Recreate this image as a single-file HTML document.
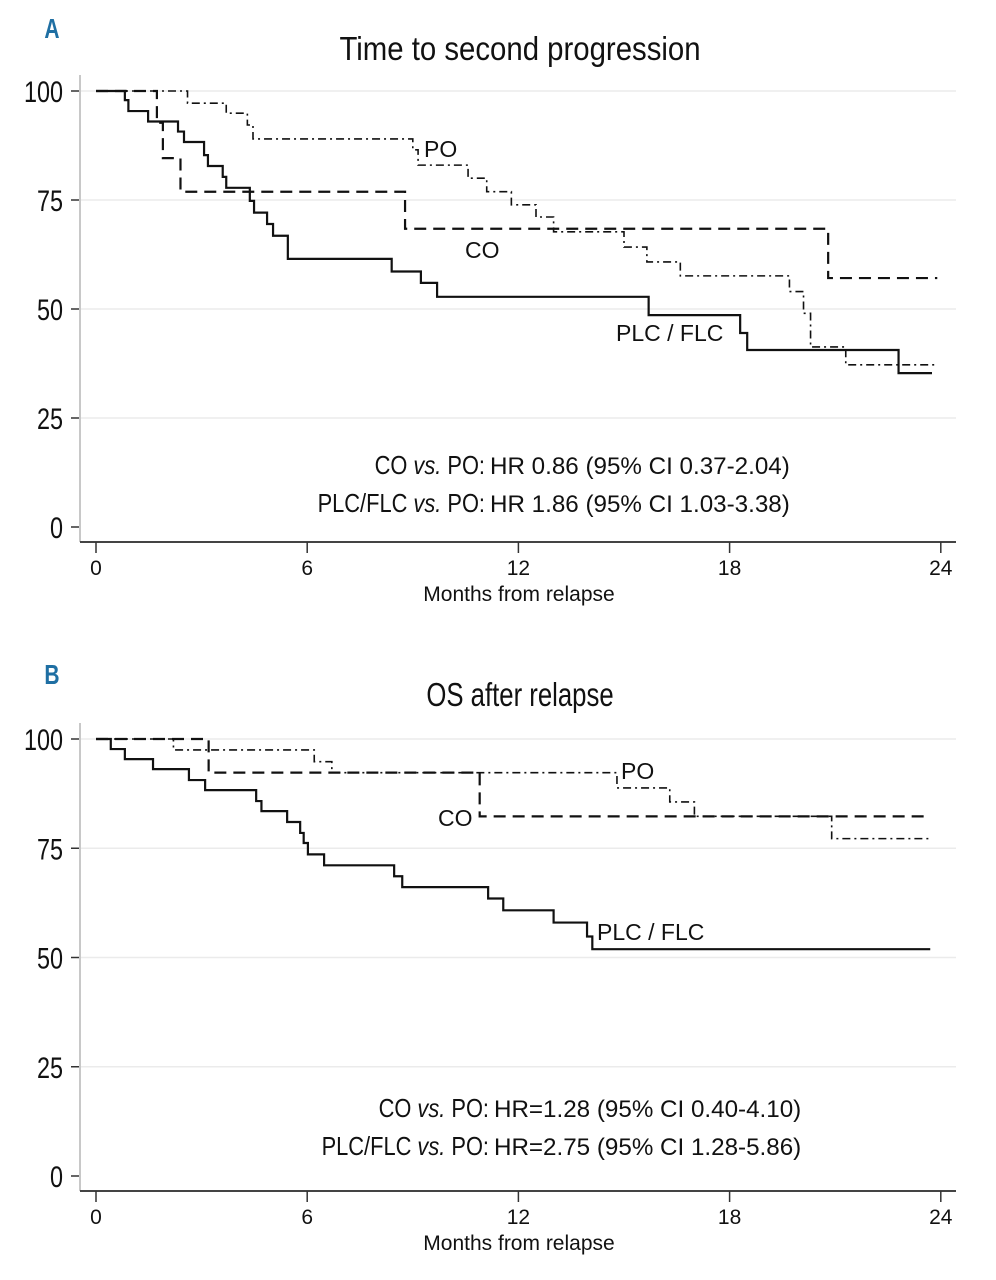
<!DOCTYPE html>
<html><head><meta charset="utf-8"><style>
html,body{margin:0;padding:0;background:#fff;}
svg{display:block;}
text{font-family:"Liberation Sans",sans-serif;fill:#111;}
</style></head><body>
<svg id="chart" width="996" height="1280" viewBox="0 0 996 1280" xmlns="http://www.w3.org/2000/svg"></svg>
<script>
// Panel A data (months, survival %)
const aPlcTimes=[0,0.82,0.92,1.48,2.33,2.5,3.07,3.18,3.6,3.7,4.37,4.49,4.86,5.03,5.45,8.4,9.23,9.69,15.7,18.3,18.5,22.8];
const aPlcVals=[100,97.9,95.4,93,90.7,88.3,85.3,82.8,80.3,77.8,74.8,72.1,69.5,66.8,61.5,58.6,56,52.8,48.6,44.5,40.6,35.3];
const aCoTimes=[0,1.73,1.9,2.4,8.78,20.8];
const aCoVals=[100,92.7,84.6,76.9,68.4,57.1];
const aPoTimes=[0,2.6,3.7,4.3,4.46,9.0,9.15,10.57,11.1,11.8,12.5,13.0,15.0,15.65,16.6,19.7,20.1,20.3,21.3];
const aPoVals=[100,97.2,94.9,92.2,89,86.5,83,80,76.9,73.9,71.1,67.7,64.2,60.8,57.6,54,49,41.3,37.2];
// Panel B data
const bPlcTimes=[0,0.42,0.82,1.62,2.64,3.1,4.55,4.7,5.43,5.8,5.9,6.02,6.48,8.47,8.7,11.14,11.57,13.0,13.95,14.1];
const bPlcVals=[100,97.7,95.4,93.1,90.6,88.3,85.8,83.5,81,78.5,76.2,73.6,71.1,68.6,66.1,63.5,60.8,58,54.8,51.9];
const bCoTimes=[0,3.2,10.9];
const bCoVals=[100,92.3,82.3];
const bPoTimes=[0,2.2,6.2,6.7,14.8,16.3,17.0,20.9];
const bPoVals=[100,97.5,94.8,92.3,88.8,85.6,82.3,77.2];
const xTicks=[0,6,12,18,24];
const yTicks=[0,25,50,75,100];

const NS="http://www.w3.org/2000/svg";
const svg=document.getElementById('chart');
function mk(tag,attrs,parent){const e=document.createElementNS(NS,tag);for(const k in attrs)e.setAttribute(k,attrs[k]);(parent||svg).appendChild(e);return e;}
const X0=96,XS=35.2;
function xs(t){return X0+t*XS;}

function panel(cfg){
  const g=mk('g',{});
  
  
  const ys=v=>cfg.y0-(cfg.y0-cfg.y100)*v/100;
  yTicks.forEach(v=>{
    if(v>0){const l=mk('line',{x1:80,x2:956,y1:ys(v),y2:ys(v),stroke:'#ebebeb','stroke-width':1.5},g);
    
    }
    const tk=mk('line',{x1:71,x2:79,y1:ys(v),y2:ys(v),stroke:'#333','stroke-width':1.5},g);
    
    
    const t=mk('text',{transform:`translate(63,${ys(v)+11}) scale(0.78,1)`,'text-anchor':'end','font-size':30},g);
    t.textContent=v;
    
    
  });
  const ya=mk('line',{x1:80,x2:80,y1:cfg.y100-16,y2:cfg.axisY,stroke:'#c8c8c8','stroke-width':2},g);
  
  
  const xa=mk('line',{x1:80,x2:956,y1:cfg.axisY,y2:cfg.axisY,stroke:'#444','stroke-width':2},g);
  
  
  xTicks.forEach(v=>{
    const tk=mk('line',{x1:xs(v),x2:xs(v),y1:cfg.axisY,y2:cfg.axisY+11,stroke:'#333','stroke-width':1.5},g);
    
    
    const t=mk('text',{x:xs(v),y:cfg.axisY+33,'text-anchor':'middle','font-size':21},g);
    t.textContent=v;
    
    
  });
  const xt=mk('text',{x:519,y:cfg.axisY+59,'text-anchor':'middle','font-size':21},g);
  xt.textContent='Months from relapse';
  
  
  const tt=mk('text',{transform:`translate(520,${cfg.titleY}) scale(${cfg.titleScale},1)`,'text-anchor':'middle','font-size':33},g);
  tt.textContent=cfg.title;
  
  
  const pl=mk('text',{transform:`translate(52,${cfg.titleY-22}) scale(0.75,1)`,'text-anchor':'middle','font-size':28,'font-weight':'bold',style:'fill:#1f6fa3'},g);
  pl.textContent=cfg.letter;
  
  
  cfg.series.forEach(s=>{
    let d=`M${xs(s.t[0])},${ys(s.v[0])}`;
    for(let i=1;i<s.t.length;i++){d+=`H${xs(s.t[i])}V${ys(s.v[i])}`;}
    d+=`H${xs(s.end)}`;
    const p=mk('path',{d:d,fill:'none',stroke:'#111','stroke-width':s.w,'stroke-dasharray':s.dash},g);
    
    
  });
  cfg.labels.forEach(l=>{
    const t=mk('text',{x:l.x,y:l.y,'font-size':23},g);
    t.textContent=l.text;
    
    
  });
  cfg.hr.forEach(h=>{
    const t=mk('text',{transform:`translate(${cfg.hrX-5},${h.y}) scale(0.84,1)`,'text-anchor':'end','font-size':26},g);
    
    
    const a=mk('tspan',{},t);a.textContent=h.a+' ';
    const b=mk('tspan',{style:'font-style:italic'},t);b.textContent='vs.';
    const c=mk('tspan',{},t);c.textContent=' PO:';
    const r=mk('text',{x:cfg.hrX,y:h.y,'font-size':24.2},g);
    r.textContent=h.b;
    
    
  });
}

panel({name:'panel-a-time-to-second-progression',letter:'A',title:'Time to second progression',titleY:60,titleScale:0.89,y100:91,y0:527,axisY:542,hrX:490,
 series:[
  {name:'curve-a-plc-flc',t:aPlcTimes,v:aPlcVals,end:23.75,w:2.2,dash:'none'},
  {name:'curve-a-co',t:aCoTimes,v:aCoVals,end:23.9,w:2.2,dash:'12,7'},
  {name:'curve-a-po',t:aPoTimes,v:aPoVals,end:23.9,w:1.6,dash:'8,4,2,4'}],
 labels:[{x:424,y:157,text:'PO'},{x:465,y:258,text:'CO'},{x:616,y:341,text:'PLC / FLC'}],
 hr:[{y:474,a:'CO',b:'HR 0.86 (95% CI 0.37-2.04)'},{y:512,a:'PLC/FLC',b:'HR 1.86 (95% CI 1.03-3.38)'}]
});
panel({name:'panel-b-os-after-relapse',letter:'B',title:'OS after relapse',titleY:706,titleScale:0.78,y100:739,y0:1176,axisY:1191,hrX:494,
 series:[
  {name:'curve-b-plc-flc',t:bPlcTimes,v:bPlcVals,end:23.7,w:2.2,dash:'none'},
  {name:'curve-b-co',t:bCoTimes,v:bCoVals,end:23.6,w:2.2,dash:'12,7'},
  {name:'curve-b-po',t:bPoTimes,v:bPoVals,end:23.7,w:1.6,dash:'8,4,2,4'}],
 labels:[{x:621,y:779,text:'PO'},{x:438,y:826,text:'CO'},{x:597,y:940,text:'PLC / FLC'}],
 hr:[{y:1117,a:'CO',b:'HR=1.28 (95% CI 0.40-4.10)'},{y:1155,a:'PLC/FLC',b:'HR=2.75 (95% CI 1.28-5.86)'}]
});
</script>
</body></html>
